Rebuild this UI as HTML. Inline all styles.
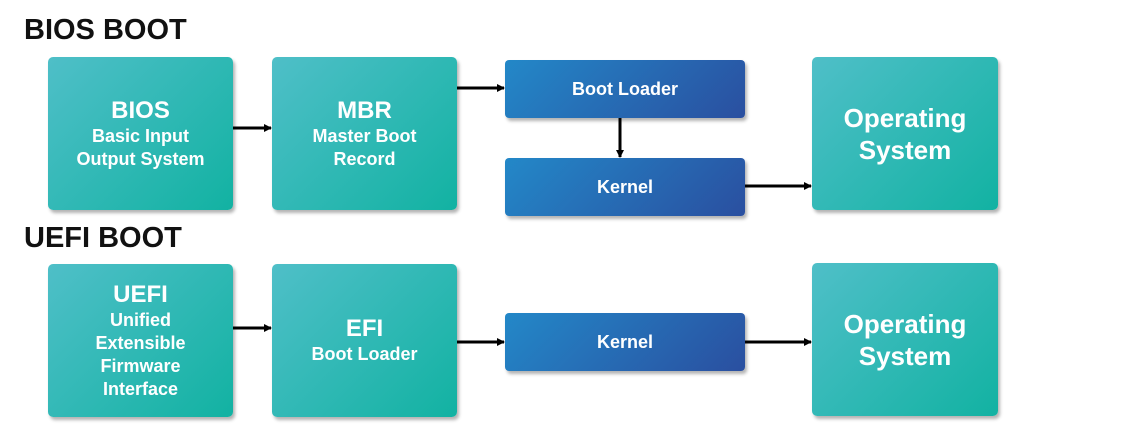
<!DOCTYPE html>
<html><head><style>
body{margin:0;width:1137px;height:437px;background:#fff;position:relative;font-family:"Liberation Sans",sans-serif;overflow:hidden}
.t{position:absolute;font-weight:bold;font-size:29px;color:#111;left:24px}
.b{position:absolute;box-sizing:border-box;border-radius:5px;background:linear-gradient(135deg,#4fbfc8,#12b2a2);box-shadow:2px 3px 3px rgba(0,0,0,.3);color:#fff;font-weight:bold;display:flex;flex-direction:column;justify-content:center;align-items:center;text-align:center;line-height:23px;font-size:18px}
.b .h{font-size:24px;line-height:28px}
.k{position:absolute;box-sizing:border-box;border-radius:4px;background:linear-gradient(135deg,#2388c8,#2a4fa0);box-shadow:2px 3px 3px rgba(0,0,0,.3);color:#fff;font-weight:bold;font-size:18px;display:flex;justify-content:center;align-items:center}
.os{font-size:26px;line-height:32px}
</style></head><body>
<div class="t" style="top:14px">BIOS BOOT</div>
<div class="t" style="top:222px">UEFI BOOT</div>
<div class="b" style="left:48px;top:57px;width:185px;height:153px"><div class="h">BIOS</div>Basic Input<br>Output System</div>
<div class="b" style="left:272px;top:57px;width:185px;height:153px"><div class="h">MBR</div>Master Boot<br>Record</div>
<div class="k" style="left:505px;top:60px;width:240px;height:58px">Boot Loader</div>
<div class="k" style="left:505px;top:158px;width:240px;height:58px">Kernel</div>
<div class="b os" style="left:812px;top:57px;width:186px;height:153px">Operating<br>System</div>
<div class="b" style="left:48px;top:264px;width:185px;height:153px"><div class="h">UEFI</div>Unified<br>Extensible<br>Firmware<br>Interface</div>
<div class="b" style="left:272px;top:264px;width:185px;height:153px"><div class="h">EFI</div>Boot Loader</div>
<div class="k" style="left:505px;top:313px;width:240px;height:58px">Kernel</div>
<div class="b os" style="left:812px;top:263px;width:186px;height:153px">Operating<br>System</div>
<svg width="1137" height="437" style="position:absolute;left:0;top:0">
<defs><marker id="a" markerWidth="8" markerHeight="8" refX="7" refY="4" orient="auto" markerUnits="userSpaceOnUse"><path d="M0,0L8,4L0,8z" fill="#000"/></marker></defs>
<g stroke="#000" stroke-width="3" marker-end="url(#a)">
<line x1="233" y1="128" x2="271" y2="128"/>
<line x1="457" y1="88" x2="504" y2="88"/>
<line x1="620" y1="118" x2="620" y2="157"/>
<line x1="745" y1="186" x2="811" y2="186"/>
<line x1="233" y1="328" x2="271" y2="328"/>
<line x1="457" y1="342" x2="504" y2="342"/>
<line x1="745" y1="342" x2="811" y2="342"/>
</g></svg>
</body></html>
